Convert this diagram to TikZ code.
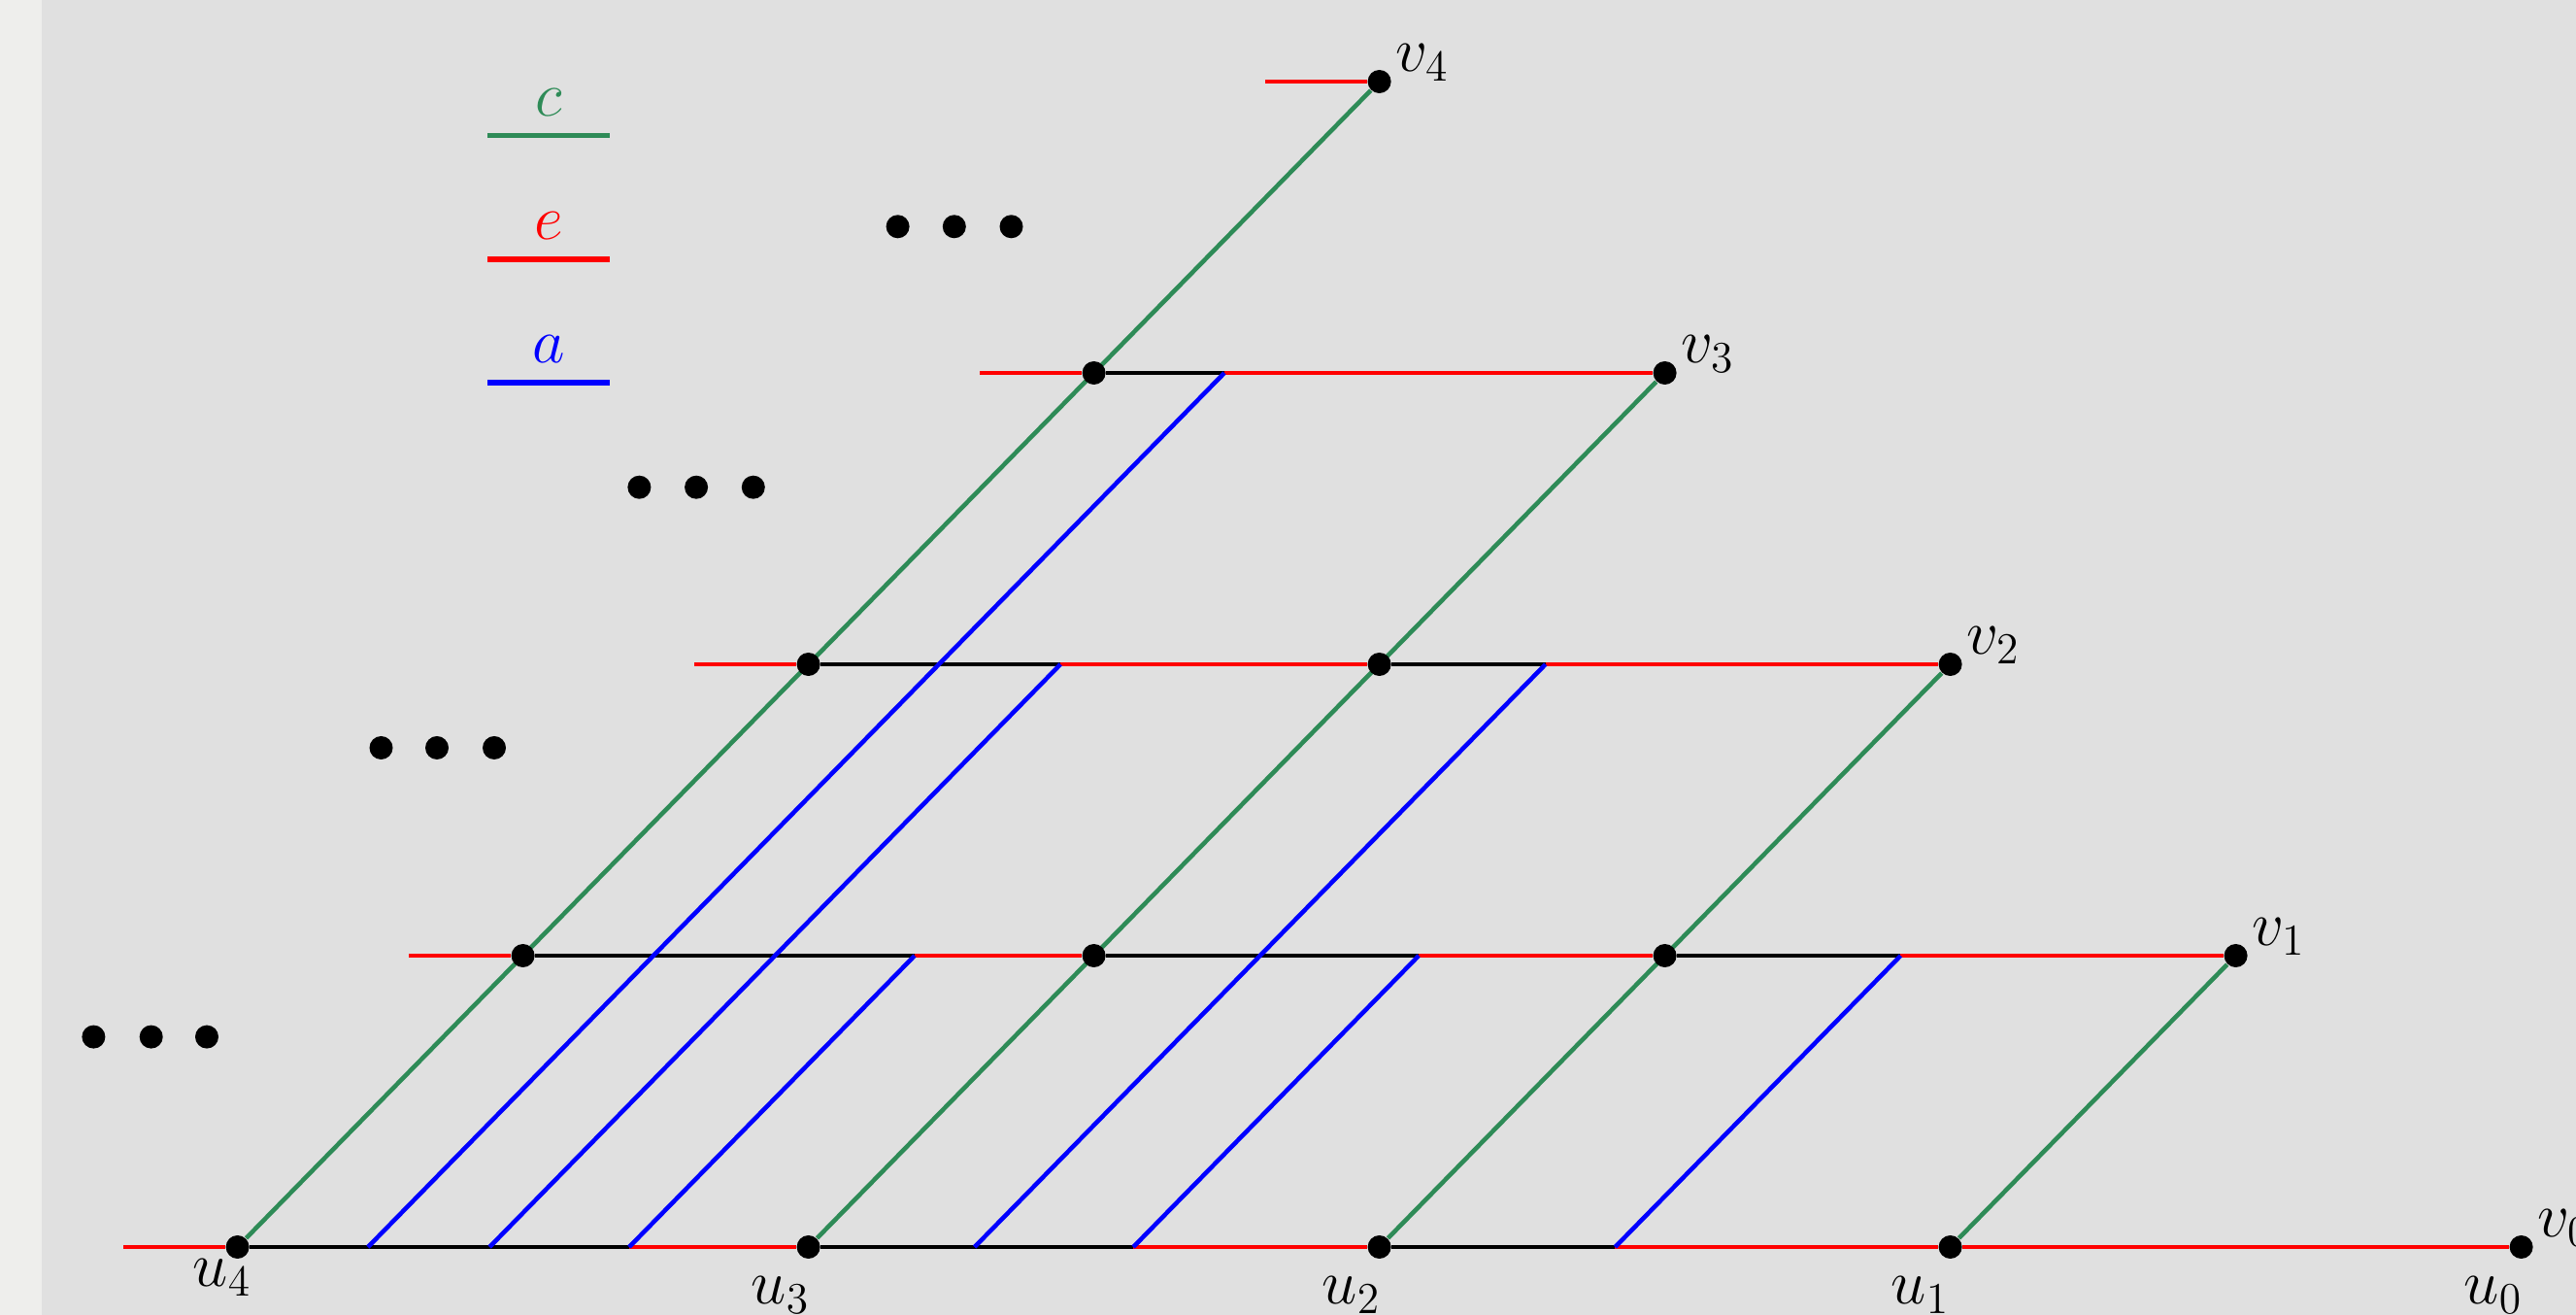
\RequirePackage{fix-cm}
\documentclass[tikz,border=0pt]{standalone}
\definecolor{cgreen}{RGB}{46,139,87}
\definecolor{bgcol}{RGB}{224,224,224}
\definecolor{stripcol}{RGB}{238,238,236}
\pgfdeclarelayer{bglayer}
\pgfsetlayers{bglayer,main}
\begin{document}
\begin{tikzpicture}[
  vdot/.style={circle, fill=black, inner sep=0pt, minimum size=0.24cm},
  ln/.style={line width=1.3pt},
  lnc/.style={ln, draw=cgreen},
  lne/.style={ln, draw=red},
  lna/.style={ln, draw=blue},
  lnk/.style={ln, draw=black},
  lab/.style={inner sep=0pt, font=\fontsize{18.5}{22}\selectfont},
  leg/.style={line width=1.5pt},
  legtxt/.style={lab, anchor=base, yshift=0.2cm}
]
\useasboundingbox (0,0) rectangle (26.53,13.54);
\begin{pgfonlayer}{bglayer}
\fill[stripcol] (0,0) rectangle (0.43,13.54);
\fill[bgcol] (0.43,0) rectangle (26.53,13.54);
\end{pgfonlayer}

% legend
\begin{pgfonlayer}{bglayer}
\draw[leg, draw=cgreen] (5.02,12.147) coordinate (lc1) -- (6.28,12.147) coordinate (lc2)
  node[legtxt, midway, text=cgreen] (lc) {$c$};
\draw[leg, draw=red] (5.02,10.87) coordinate (le1) -- (6.28,10.87) coordinate (le2)
  node[legtxt, midway, text=red] (le) {$e$};
\draw[leg, draw=blue] (5.02,9.60) coordinate (la1) -- (6.28,9.60) coordinate (la2)
  node[legtxt, midway, text=blue] (la) {$a$};
\end{pgfonlayer}

% ellipsis dots
\foreach \x [count=\i] in {9.246,9.828,10.415} \node[vdot] (dA\i) at (\x,11.207) {};
\foreach \x [count=\i] in {6.584,7.171,7.758} \node[vdot] (dB\i) at (\x,8.523) {};
\foreach \x [count=\i] in {3.925,4.500,5.090} \node[vdot] (dC\i) at (\x,5.840) {};
\foreach \x [count=\i] in {0.964,1.557,2.130} \node[vdot] (dD\i) at (\x,2.864) {};

\begin{scope}[shift={(2.446cm,0.70cm)}, x=2.94cm, y=3cm]
% lattice nodes
\node[vdot] (u4) at (0,0) {};
\node[vdot] (u3) at (2,0) {};
\node[vdot] (u2) at (4,0) {};
\node[vdot] (u1) at (6,0) {};
\node[vdot] (u0) at (8,0) {};
\node[vdot] (a1) at (1,1) {};
\node[vdot] (b1) at (3,1) {};
\node[vdot] (c1) at (5,1) {};
\node[vdot] (v1) at (7,1) {};
\node[vdot] (a2) at (2,2) {};
\node[vdot] (b2) at (4,2) {};
\node[vdot] (v2) at (6,2) {};
\node[vdot] (a3) at (3,3) {};
\node[vdot] (v3) at (5,3) {};
\node[vdot] (v4) at (4,4) {};

% stub ends
\coordinate (s0) at (-0.4,0);
\coordinate (s1) at (0.6,1);
\coordinate (s2) at (1.6,2);
\coordinate (s3) at (2.6,3);
\coordinate (s4) at (3.6,4);

% blue line ends
\coordinate (p1) at (0.457,0); \coordinate (q1) at (3.457,3);
\coordinate (p2) at (0.883,0); \coordinate (q2) at (2.883,2);
\coordinate (p3) at (1.372,0); \coordinate (q3) at (2.372,1);
\coordinate (p4) at (2.582,0); \coordinate (q4) at (4.582,2);
\coordinate (p5) at (3.138,0); \coordinate (q5) at (4.138,1);
\coordinate (p6) at (4.826,0); \coordinate (q6) at (5.826,1);

\begin{pgfonlayer}{bglayer}
% horizontal rows
\draw[lne] (s0) -- (u4);
\draw[lnk] (u4) -- (p3);
\draw[lne] (p3) -- (u3);
\draw[lnk] (u3) -- (p5);
\draw[lne] (p5) -- (u2);
\draw[lnk] (u2) -- (p6);
\draw[lne] (p6) -- (u1);
\draw[lne] (u1) -- (u0);

\draw[lne] (s1) -- (a1);
\draw[lnk] (a1) -- (q3);
\draw[lne] (q3) -- (b1);
\draw[lnk] (b1) -- (q5);
\draw[lne] (q5) -- (c1);
\draw[lnk] (c1) -- (q6);
\draw[lne] (q6) -- (v1);

\draw[lne] (s2) -- (a2);
\draw[lnk] (a2) -- (q2);
\draw[lne] (q2) -- (b2);
\draw[lnk] (b2) -- (q4);
\draw[lne] (q4) -- (v2);

\draw[lne] (s3) -- (a3);
\draw[lnk] (a3) -- (q1);
\draw[lne] (q1) -- (v3);

\draw[lne] (s4) -- (v4);

% blue lines
\draw[lna] (p1) -- (q1);
\draw[lna] (p2) -- (q2);
\draw[lna] (p3) -- (q3);
\draw[lna] (p4) -- (q4);
\draw[lna] (p5) -- (q5);
\draw[lna] (p6) -- (q6);

% green lines
\draw[lnc] (u4) -- (v4);
\draw[lnc] (u3) -- (v3);
\draw[lnc] (u2) -- (v2);
\draw[lnc] (u1) -- (v1);
\end{pgfonlayer}

% labels
\node[lab, anchor=south west, xshift=0.16cm] (lv4) at (v4.center) {$v_4$};
\node[lab, anchor=south west, xshift=0.16cm] (lv3) at (v3.center) {$v_3$};
\node[lab, anchor=south west, xshift=0.16cm] (lv2) at (v2.center) {$v_2$};
\node[lab, anchor=south west, xshift=0.16cm] (lv1) at (v1.center) {$v_1$};
\node[lab, anchor=south west, xshift=0.16cm] (lv0) at (u0.center) {$v_0$};
\node[lab, anchor=north east, xshift=0.15cm, yshift=-0.12cm] (lu4) at (u4.center) {$u_4$};
\node[lab, anchor=north east, xshift=0.02cm, yshift=-0.30cm] (lu3) at (u3.center) {$u_3$};
\node[lab, anchor=north east, xshift=0.02cm, yshift=-0.30cm] (lu2) at (u2.center) {$u_2$};
\node[lab, anchor=north east, xshift=0.00cm, yshift=-0.30cm] (lu1) at (u1.center) {$u_1$};
\node[lab, anchor=north east, xshift=0.02cm, yshift=-0.30cm] (lu0) at (u0.center) {$u_0$};
\end{scope}
\end{tikzpicture}
\end{document}
